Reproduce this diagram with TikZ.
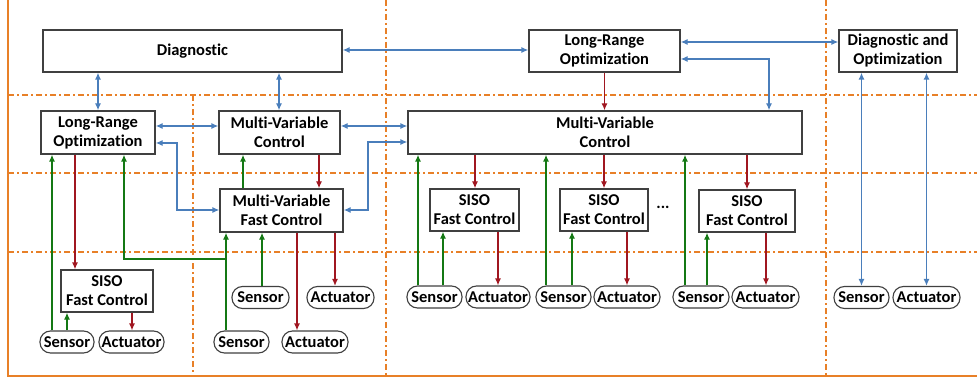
\documentclass[tikz,border=0pt]{standalone}
\usepackage{fontspec}
\setmainfont{Carlito}[BoldFont={Carlito Bold}, Ligatures={NoCommon,NoContextual}, RawFeature={-liga;-clig;-dlig}]
\usetikzlibrary{arrows.meta}
\definecolor{frameor}{RGB}{232,128,40}
\definecolor{lnblue}{RGB}{74,126,187}
\definecolor{lnred}{RGB}{160,22,32}
\definecolor{lngreen}{RGB}{20,120,20}
\definecolor{bordergray}{RGB}{64,64,64}
\tikzset{
  txt/.style={font=\bfseries\fontsize{16.5}{19}\selectfont, align=center},
  blk/.style={txt, draw=bordergray, line width=1.3pt, fill=white, inner sep=0pt},
  pill/.style={txt, draw=bordergray, line width=1.1pt, fill=white, inner sep=0pt, rounded corners=10.5pt, minimum height=22pt},
  orsolid/.style={draw=frameor, line width=1.5pt},
  ordash/.style={draw=frameor, line width=1.3pt, dash pattern=on 6pt off 3pt on 2pt off 3pt},
  bl/.style={draw=lnblue, line width=1.3pt, {Latex[length=7pt,width=6pt]}-{Latex[length=7pt,width=6pt]}},
  rd/.style={draw=lnred, line width=1.3pt, -{Latex[length=7pt,width=6pt]}},
  gr/.style={draw=lngreen, line width=1.3pt, -{Latex[length=7pt,width=6pt]}},
}
\begin{document}
\begin{tikzpicture}[x=1pt,y=-1pt]
\useasboundingbox (0,0) rectangle (977,382);
% frame and zone lines
\draw[ordash] (8,95) -- (977,95);
\draw[ordash] (8,173) -- (977,173);
\draw[ordash] (8,252) -- (977,252);
\draw[ordash] (193,95) -- (193,376);
\draw[ordash] (386,0) -- (386,376);
\draw[ordash] (826,0) -- (826,376);
\draw[orsolid] (8,0) -- (8,376) -- (977,376);

% blocks
\node[blk, minimum width=299pt, minimum height=42pt] (diag) at (192.5,51) {Diagnostic};
\node[blk, minimum width=114pt, minimum height=43pt] (lro1) at (98,132.5) {Long-Range\\Optimization};
\node[blk, minimum width=121pt, minimum height=43pt] (mvc1) at (279.5,132.5) {Multi-Variable\\Control};
\node[blk, minimum width=123pt, minimum height=43pt] (mvfc) at (281.5,210.5) {Multi-Variable\\Fast Control};
\node[blk, minimum width=92pt, minimum height=42pt] (siso0) at (107,291) {SISO\\Fast Control};
\node[blk, minimum width=151pt, minimum height=42pt] (lro2) at (604.5,51) {Long-Range\\Optimization};
\node[blk, minimum width=394pt, minimum height=43pt] (mvc2) at (605,132.5) {Multi-Variable\\Control};
\node[blk, minimum width=118pt, minimum height=42pt] (dao) at (898,51) {Diagnostic and\\Optimization};
\node[blk, minimum width=89pt, minimum height=42pt] (siso1) at (474.5,210) {SISO\\Fast Control};
\node[blk, minimum width=88pt, minimum height=42pt] (siso2) at (604,210) {SISO\\Fast Control};
\node[blk, minimum width=96pt, minimum height=42pt] (siso3) at (747,211) {SISO\\Fast Control};
\node[txt] (dots) at (663,207) {...};

% sensors and actuators
\node[pill, minimum width=54pt] (s0) at (67,342) {Sensor};
\node[pill, minimum width=65pt] (a0) at (131.5,342) {Actuator};
\node[pill, minimum width=57pt] (sm) at (260.5,297.5) {Sensor};
\node[pill, minimum width=67pt] (am) at (340.5,297.5) {Actuator};
\node[pill, minimum width=55pt] (sb) at (241.5,342) {Sensor};
\node[pill, minimum width=66pt] (ab) at (315,342) {Actuator};
\node[pill, minimum width=55pt] (s1) at (434.5,297) {Sensor};
\node[pill, minimum width=64pt] (a1) at (498,297) {Actuator};
\node[pill, minimum width=55pt] (s2) at (563.5,297) {Sensor};
\node[pill, minimum width=66pt] (a2) at (627,297) {Actuator};
\node[pill, minimum width=56pt] (s3) at (701,297) {Sensor};
\node[pill, minimum width=67pt] (a3) at (765.5,297) {Actuator};
\node[pill, minimum width=55pt] (s4) at (861.5,297.5) {Sensor};
\node[pill, minimum width=67pt] (a4) at (926.5,297.5) {Actuator};

% blue links
\draw[bl] (diag.south -| lro1.north) -- (lro1.north);
\draw[bl] (diag.south -| 279,0) -- (mvc1.north -| 279,0);
\draw[bl] (lro1.east |- 0,126) -- (mvc1.west |- 0,126);
\draw[bl] (lro1.east |- 0,143) -| (177,210) -- (mvfc.west |- 0,210);
\draw[bl] (mvc1.east |- 0,126) -- (mvc2.west |- 0,126);
\draw[bl] (mvfc.east |- 0,210) -| (368,142) -- (mvc2.west |- 0,142);
\draw[bl] (diag.east |- 0,50) -- (lro2.west |- 0,50);
\draw[bl] (lro2.east |- 0,42) -- (dao.west |- 0,42);
\draw[bl] (lro2.east |- 0,59) -| (mvc2.north -| 769,0);
\draw[bl] (dao.south -| s4.north) -- (s4.north);
\draw[bl] (dao.south -| a4.north) -- (a4.north);

% red links
\draw[rd] (lro2.south) -- (mvc2.north -| lro2.south);
\draw[rd] (mvc1.south -| 319,0) -- (mvfc.north -| 319,0);
\draw[rd] (lro1.south -| 75,0) -- (siso0.north -| 75,0);
\draw[rd] (siso0.south -| 132,0) -- (a0.north -| 132,0);
\draw[rd] (mvfc.south -| 297,0) -- (ab.north -| 297,0);
\draw[rd] (mvfc.south -| 335,0) -- (am.north -| 335,0);
\draw[rd] (mvc2.south -| 475,0) -- (siso1.north -| 475,0);
\draw[rd] (mvc2.south -| 604,0) -- (siso2.north -| 604,0);
\draw[rd] (mvc2.south -| 747,0) -- (siso3.north -| 747,0);
\draw[rd] (siso1.south -| 498,0) -- (a1.north -| 498,0);
\draw[rd] (siso2.south -| 627,0) -- (a2.north -| 627,0);
\draw[rd] (siso3.south -| 766,0) -- (a3.north -| 766,0);

% green links
\draw[gr] (s0.north -| 52,0) -- (lro1.south -| 52,0);
\draw[gr] (s0.north -| 67,0) -- (siso0.south -| 67,0);
\draw[gr] (sb.north -| 226,0) -- (mvfc.south -| 226,0);
\coordinate (jn) at (226,259);
\draw[gr] (jn) -| (lro1.south -| 124,0);
\draw[gr] (sm.north -| 262,0) -- (mvfc.south -| 262,0);
\draw[gr] (mvfc.north -| 243,0) -- (mvc1.south -| 243,0);
\draw[gr] (s1.north -| 418,0) -- (mvc2.south -| 418,0);
\draw[gr] (s1.north -| 443,0) -- (siso1.south -| 443,0);
\draw[gr] (s2.north -| 546,0) -- (mvc2.south -| 546,0);
\draw[gr] (s2.north -| 572,0) -- (siso2.south -| 572,0);
\draw[gr] (s3.north -| 685,0) -- (mvc2.south -| 685,0);
\draw[gr] (s3.north -| 707,0) -- (siso3.south -| 707,0);
\end{tikzpicture}
\end{document}
